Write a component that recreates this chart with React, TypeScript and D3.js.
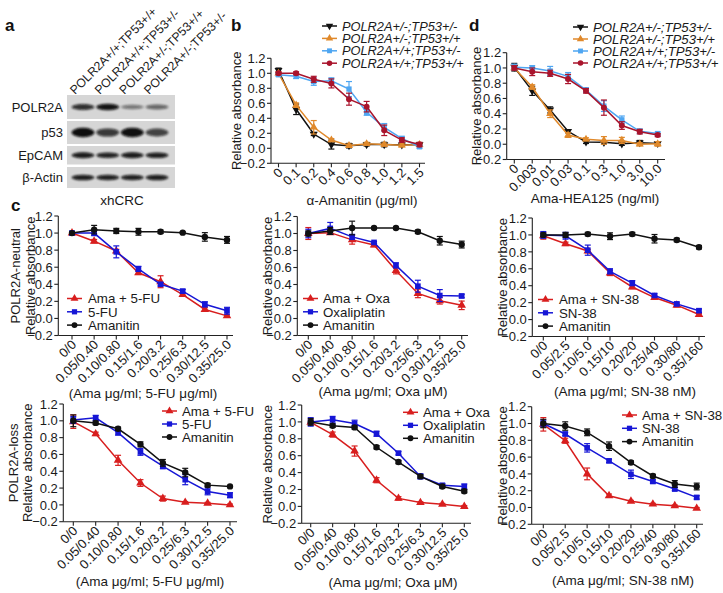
import React from "react";
import * as d3 from "d3";

const FONT = "'Liberation Sans', Arial, Helvetica, sans-serif";
const TXT = "#1a1a1a";

// ---------- colours ----------
const C_BLACK = "#111111";
const C_ORANGE = "#e0892b";
const C_LBLUE = "#4ea6f2";
const C_DRED = "#a9142c";
const C_RED = "#d81e1e";
const C_BLUE = "#1616d6";

// ---------- panel a (western blot) ----------
const lanes = ["POLR2A+/+;TP53+/+", "POLR2A+/+;TP53+/-", "POLR2A+/-;TP53+/+", "POLR2A+/-;TP53+/-"];
const blotProteins = ["POLR2A", "p53", "EpCAM", "β-Actin"];
const polr2aBands = [0.78, 0.95, 0.32, 0.42];
const p53Bands = [1.0, 0.72, 0.98, 0.66];
const epcamBands = [0.9, 0.86, 0.9, 0.88];
const actinBands = [0.88, 0.86, 0.86, 0.88];
const blotBands = [polr2aBands, p53Bands, epcamBands, actinBands];

// ---------- panel b ----------
const bDoses = ["0", "0.1", "0.2", "0.4", "0.6", "0.8", "1.0", "1.2", "1.5"];
const bNames = ["POLR2A+/-;TP53+/-", "POLR2A+/-;TP53+/+", "POLR2A+/+;TP53+/-", "POLR2A+/+;TP53+/+"];
const bBlack = [1.04, 0.52, 0.19, 0.05, 0.035, 0.05, 0.05, 0.045, 0.05];
const bBlackErr = [0.03, 0.07, 0.02, 0.06, 0.03, 0.02, 0.03, 0.02, 0.02];
const bOrange = [1.0, 0.575, 0.28, 0.11, 0.035, 0.06, 0.05, 0.04, 0.05];
const bOrangeErr = [0.02, 0.03, 0.09, 0.02, 0.02, 0.02, 0.02, 0.02, 0.02];
const bLBlue = [0.98, 0.96, 0.89, 0.9, 0.79, 0.48, 0.28, 0.13, 0.02];
const bLBlueErr = [0.02, 0.03, 0.05, 0.04, 0.1, 0.04, 0.05, 0.03, 0.02];
const bDRed = [1.0, 1.0, 0.92, 0.865, 0.655, 0.555, 0.24, 0.11, 0.05];
const bDRedErr = [0.02, 0.02, 0.04, 0.06, 0.08, 0.07, 0.07, 0.03, 0.03];

// ---------- panel d ----------
const dDoses = ["0", "0.003", "0.01", "0.03", "0.1", "0.3", "1.0", "3.0", "10.0"];
const dBlack = [1.01, 0.7, 0.45, 0.17, 0.03, 0.025, 0.005, 0.02, 0.01];
const dBlackErr = [0.05, 0.06, 0.04, 0.02, 0.02, 0.02, 0.02, 0.03, 0.02];
const dOrange = [1.0, 0.75, 0.4, 0.12, 0.065, 0.05, 0.05, 0.0, 0.005];
const dOrangeErr = [0.03, 0.03, 0.05, 0.03, 0.02, 0.05, 0.04, 0.02, 0.03];
const dLBlue = [1.01, 1.0, 0.96, 0.89, 0.71, 0.5, 0.32, 0.17, 0.14];
const dLBlueErr = [0.04, 0.03, 0.06, 0.05, 0.03, 0.07, 0.05, 0.03, 0.02];
const dDRed = [1.0, 0.95, 0.93, 0.855, 0.7, 0.48, 0.245, 0.165, 0.12];
const dDRedErr = [0.03, 0.05, 0.04, 0.06, 0.03, 0.1, 0.05, 0.03, 0.02];

// ---------- panel c ----------
const fuDoses = ["0/0", "0.05/0.40", "0.10/0.80", "0.15/1.6", "0.20/3.2", "0.25/6.3", "0.30/12.5", "0.35/25.0"];
const oxaDoses = ["0/0", "0.05/0.40", "0.10/0.80", "0.15/1.6", "0.20/3.2", "0.25/6.3", "0.30/12.5", "0.35/25.0"];
const snDoses = ["0/0", "0.05/2.5", "0.10/5.0", "0.15/10", "0.20/20", "0.25/40", "0.30/80", "0.35/160"];

// neutral row
const nFuCombo = [1.0, 0.905, 0.79, 0.535, 0.43, 0.28, 0.105, 0.03];
const nFuComboErr = [0.01, 0.02, 0.02, 0.02, 0.07, 0.02, 0.02, 0.01];
const nFu = [1.0, 1.0, 0.78, 0.58, 0.4, 0.32, 0.165, 0.09];
const nFuErr = [0.02, 0.03, 0.07, 0.03, 0.02, 0.02, 0.03, 0.04];
const nFuAma = [1.0, 1.04, 1.025, 1.015, 1.015, 1.005, 0.955, 0.92];
const nFuAmaErr = [0.01, 0.05, 0.03, 0.04, 0.02, 0.01, 0.05, 0.04];

const nOxaCombo = [1.0, 1.01, 0.925, 0.865, 0.565, 0.295, 0.21, 0.155];
const nOxaComboErr = [0.07, 0.02, 0.05, 0.02, 0.04, 0.05, 0.04, 0.05];
const nOxa = [1.0, 1.06, 0.96, 0.895, 0.625, 0.38, 0.27, 0.265];
const nOxaErr = [0.05, 0.07, 0.03, 0.01, 0.03, 0.07, 0.07, 0.02];
const nOxaAma = [1.0, 1.03, 1.065, 1.065, 1.065, 1.02, 0.915, 0.87];
const nOxaAmaErr = [0.03, 0.04, 0.08, 0.01, 0.01, 0.02, 0.05, 0.04];

const nSnCombo = [0.99, 0.895, 0.81, 0.55, 0.385, 0.26, 0.17, 0.06];
const nSnComboErr = [0.04, 0.02, 0.02, 0.03, 0.02, 0.02, 0.02, 0.01];
const nSn = [1.0, 0.99, 0.82, 0.57, 0.43, 0.285, 0.185, 0.105];
const nSnErr = [0.04, 0.04, 0.06, 0.03, 0.03, 0.02, 0.02, 0.02];
const nSnAma = [1.0, 1.0, 1.01, 0.985, 1.01, 0.955, 0.94, 0.855];
const nSnAmaErr = [0.02, 0.03, 0.02, 0.04, 0.02, 0.05, 0.02, 0.02];

// loss row
const lFuCombo = [0.99, 0.845, 0.53, 0.26, 0.075, 0.03, 0.02, 0.0];
const lFuComboErr = [0.08, 0.02, 0.06, 0.04, 0.03, 0.01, 0.01, 0.01];
const lFu = [1.01, 1.035, 0.86, 0.63, 0.46, 0.3, 0.16, 0.115];
const lFuErr = [0.04, 0.03, 0.03, 0.04, 0.03, 0.06, 0.04, 0.03];
const lFuAma = [1.0, 0.975, 0.905, 0.72, 0.5, 0.385, 0.235, 0.22];
const lFuAmaErr = [0.07, 0.02, 0.02, 0.03, 0.04, 0.05, 0.02, 0.01];

const lOxaCombo = [0.995, 0.85, 0.655, 0.31, 0.095, 0.045, 0.025, 0.0];
const lOxaComboErr = [0.03, 0.03, 0.06, 0.03, 0.02, 0.01, 0.01, 0.01];
const lOxa = [1.0, 1.025, 0.98, 0.86, 0.63, 0.355, 0.25, 0.235];
const lOxaErr = [0.05, 0.04, 0.04, 0.03, 0.02, 0.03, 0.02, 0.03];
const lOxaAma = [1.0, 0.955, 0.935, 0.7, 0.525, 0.355, 0.235, 0.18];
const lOxaAmaErr = [0.04, 0.02, 0.02, 0.02, 0.02, 0.02, 0.02, 0.02];

const lSnCombo = [0.99, 0.795, 0.4, 0.14, 0.075, 0.04, 0.02, -0.01];
const lSnComboErr = [0.08, 0.03, 0.07, 0.02, 0.01, 0.01, 0.01, 0.01];
const lSn = [1.0, 0.875, 0.71, 0.555, 0.395, 0.31, 0.22, 0.12];
const lSnErr = [0.04, 0.02, 0.05, 0.02, 0.05, 0.02, 0.02, 0.02];
const lSnAma = [1.0, 0.97, 0.895, 0.73, 0.535, 0.375, 0.28, 0.25];
const lSnAmaErr = [0.05, 0.05, 0.04, 0.05, 0.02, 0.02, 0.04, 0.04];

const yTicks = [-0.2, 0, 0.2, 0.4, 0.6, 0.8, 1.0, 1.2];

type Shape = "tri" | "triDown" | "square" | "circle";
type Series = { name: string; color: string; shape: Shape; mean: number[]; err: number[] };
type Layout = { axisX: number; x0: number; x1: number; xEnd: number; yTop: number; yBot: number };
type Legend = { x: number; textX: number; y0: number; dy: number; italic?: boolean; size: number };

function symbolPath(shape: Shape, size: number) {
  const t =
    shape === "circle" ? d3.symbolCircle : shape === "square" ? d3.symbolSquare : d3.symbolTriangle;
  return d3.symbol().type(t).size(size)() as string;
}

function Marker({ shape, cx, cy, color, size }: { shape: Shape; cx: number; cy: number; color: string; size: number }) {
  const rot = shape === "triDown" ? " rotate(180)" : "";
  return <path d={symbolPath(shape, size)} transform={`translate(${cx},${cy})${rot}`} fill={color} />;
}

function Panel(props: {
  layout: Layout;
  cats: string[];
  series: Series[];
  legend: Legend;
  yTitles: { text: string; x: number }[];
  xTitle: { text: string; x: number; y: number };
  markerSize: number;
}) {
  const { layout, cats, series, legend, yTitles, xTitle, markerSize } = props;
  const x = d3.scalePoint<string>().domain(cats).range([layout.x0, layout.x1]);
  const y = d3.scaleLinear().domain([-0.2, 1.2]).range([layout.yBot, layout.yTop]);
  const line = d3
    .line<number>()
    .x((_, i) => x(cats[i]) as number)
    .y((v) => y(v));
  const fmt = d3.format(".1f");
  const axisY = y(-0.2);
  const midY = (y(1.2) + y(-0.2)) / 2;
  return (
    <g fontFamily={FONT} fill={TXT}>
      {/* axes */}
      <line x1={layout.axisX} x2={layout.axisX} y1={y(1.2)} y2={axisY} stroke="#222" strokeWidth={1.1} />
      <line x1={layout.axisX} x2={layout.xEnd} y1={axisY} y2={axisY} stroke="#222" strokeWidth={1.1} />
      {yTicks.map((t) => (
        <g key={t}>
          <line x1={layout.axisX - 4} x2={layout.axisX} y1={y(t)} y2={y(t)} stroke="#222" strokeWidth={1.1} />
          <text x={layout.axisX - 5.5} y={y(t)} dy="0.36em" textAnchor="end" fontSize={13}>
            {fmt(t)}
          </text>
        </g>
      ))}
      {cats.map((c) => (
        <g key={c}>
          <line x1={x(c)} x2={x(c)} y1={axisY} y2={axisY + 4} stroke="#222" strokeWidth={1.1} />
          <text
            transform={`translate(${(x(c) as number) + 5},${axisY + 10}) rotate(-45)`}
            textAnchor="end"
            fontSize={13}
          >
            {c}
          </text>
        </g>
      ))}
      {yTitles.map((t) => (
        <text
          key={t.text}
          transform={`translate(${t.x},${midY}) rotate(-90)`}
          textAnchor="middle"
          dy="0.36em"
          fontSize={13}
        >
          {t.text}
        </text>
      ))}
      <text x={xTitle.x} y={xTitle.y} textAnchor="middle" fontSize={13.5}>
        {xTitle.text}
      </text>
      {/* series */}
      {series.map((s) => (
        <g key={s.name}>
          <path d={line(s.mean) as string} fill="none" stroke={s.color} strokeWidth={1.5} />
          {s.mean.map((v, i) => {
            const cx = x(cats[i]) as number;
            const e = s.err[i];
            return (
              <g key={i} stroke={s.color} strokeWidth={1.2}>
                <line x1={cx} x2={cx} y1={y(v - e)} y2={y(v + e)} />
                <line x1={cx - 3} x2={cx + 3} y1={y(v - e)} y2={y(v - e)} />
                <line x1={cx - 3} x2={cx + 3} y1={y(v + e)} y2={y(v + e)} />
              </g>
            );
          })}
          {s.mean.map((v, i) => (
            <Marker key={i} shape={s.shape} cx={x(cats[i]) as number} cy={y(v)} color={s.color} size={markerSize} />
          ))}
        </g>
      ))}
      {/* legend */}
      {series.map((s, i) => {
        const ly = legend.y0 + i * legend.dy;
        return (
          <g key={s.name}>
            <line x1={legend.x} x2={legend.x + 15} y1={ly} y2={ly} stroke={s.color} strokeWidth={1.5} />
            <Marker shape={s.shape} cx={legend.x + 7.5} cy={ly} color={s.color} size={markerSize * 0.85} />
            <text
              x={legend.textX}
              y={ly}
              dy="0.36em"
              fontSize={legend.size}
              fontStyle={legend.italic ? "italic" : "normal"}
            >
              {s.name}
            </text>
          </g>
        );
      })}
    </g>
  );
}

function Blot() {
  const lx = d3.scalePoint<string>().domain(lanes).range([83, 157]);
  const rowTops = [95, 121, 146, 167];
  const rowHeights = [24, 23, 18.5, 21];
  const bandH = [6, 8.5, 5.5, 5.5];
  return (
    <g fontFamily={FONT} fill={TXT}>
      <defs>
        <filter id="blur" x="-30%" y="-80%" width="160%" height="260%">
          <feGaussianBlur stdDeviation="1.0" />
        </filter>
      </defs>
      {blotProteins.map((p, r) => (
        <g key={p}>
          <rect x={67} y={rowTops[r]} width={108} height={rowHeights[r]} fill="#d6d6d6" />
          <text x={63} y={rowTops[r] + rowHeights[r] / 2} dy="0.36em" textAnchor="end" fontSize={13}>
            {p}
          </text>
          {lanes.map((l, i) => {
            const v = blotBands[r][i];
            const cy = rowTops[r] + rowHeights[r] / 2;
            const h = bandH[r] * (0.6 + 0.5 * v);
            return (
              <ellipse
                key={l}
                cx={lx(l)}
                cy={cy}
                rx={11.5}
                ry={h / 2}
                fill="#080808"
                opacity={0.22 + 0.78 * v}
                filter="url(#blur)"
              />
            );
          })}
        </g>
      ))}
      {lanes.map((l) => (
        <text key={l} transform={`translate(${(lx(l) as number) - 8},${95}) rotate(-45)`} fontSize={12.3}>
          {l}
        </text>
      ))}
      <text x={122} y={205} textAnchor="middle" fontSize={13.5}>
        xhCRC
      </text>
    </g>
  );
}

export default function App() {
  const bSeries: Series[] = [
    { name: bNames[0], color: C_BLACK, shape: "triDown", mean: bBlack, err: bBlackErr },
    { name: bNames[1], color: C_ORANGE, shape: "tri", mean: bOrange, err: bOrangeErr },
    { name: bNames[2], color: C_LBLUE, shape: "square", mean: bLBlue, err: bLBlueErr },
    { name: bNames[3], color: C_DRED, shape: "circle", mean: bDRed, err: bDRedErr },
  ];
  const dSeries: Series[] = [
    { name: bNames[0], color: C_BLACK, shape: "triDown", mean: dBlack, err: dBlackErr },
    { name: bNames[1], color: C_ORANGE, shape: "tri", mean: dOrange, err: dOrangeErr },
    { name: bNames[2], color: C_LBLUE, shape: "square", mean: dLBlue, err: dLBlueErr },
    { name: bNames[3], color: C_DRED, shape: "circle", mean: dDRed, err: dDRedErr },
  ];
  const mk = (drug: string, combo: number[], comboE: number[], dr: number[], drE: number[], am: number[], amE: number[]): Series[] => [
    { name: `Ama + ${drug}`, color: C_RED, shape: "tri", mean: combo, err: comboE },
    { name: drug === "Oxa" ? "Oxaliplatin" : drug, color: C_BLUE, shape: "square", mean: dr, err: drE },
    { name: "Amanitin", color: C_BLACK, shape: "circle", mean: am, err: amE },
  ];

  return (
    <svg width={723} height={593} style={{ position: "absolute", left: 0, top: 0, background: "#fff" }}>
      <rect width={723} height={593} fill="#fff" />
      {/* panel letters */}
      <g fontFamily={FONT} fontWeight="bold" fontSize={17} fill="#111">
        <text x={5} y={31}>a</text>
        <text x={231} y={31}>b</text>
        <text x={469} y={31}>d</text>
        <text x={11} y={211}>c</text>
      </g>
      <Blot />
      <Panel
        layout={{ axisX: 271, x0: 278.5, x1: 419.5, xEnd: 425, yTop: 58.3, yBot: 163.3 }}
        cats={bDoses}
        series={bSeries}
        legend={{ x: 322, textX: 342, y0: 26, dy: 12.4, italic: true, size: 12.8 }}
        yTitles={[{ text: "Relative absorbance", x: 236 }]}
        xTitle={{ text: "α-Amanitin (μg/ml)", x: 362, y: 205 }}
        markerSize={28}
      />
      <Panel
        layout={{ axisX: 506.7, x0: 514.3, x1: 657.7, xEnd: 665, yTop: 52.7, yBot: 159.5 }}
        cats={dDoses}
        series={dSeries}
        legend={{ x: 573, textX: 593, y0: 27, dy: 12, italic: true, size: 13.2 }}
        yTitles={[{ text: "Relative absorbance", x: 476 }]}
        xTitle={{ text: "Ama-HEA125 (ng/ml)", x: 595, y: 203 }}
        markerSize={28}
      />
      {/* panel c, neutral row */}
      <Panel
        layout={{ axisX: 58.3, x0: 72, x1: 227, xEnd: 233, yTop: 216, yBot: 335.5 }}
        cats={fuDoses}
        series={mk("5-FU", nFuCombo, nFuComboErr, nFu, nFuErr, nFuAma, nFuAmaErr)}
        legend={{ x: 67, textX: 88, y0: 298.5, dy: 13.3, size: 13.3 }}
        yTitles={[
          { text: "POLR2A-neutral", x: 15 },
          { text: "Relative absorbance", x: 30 },
        ]}
        xTitle={{ text: "(Ama μg/ml; 5-FU μg/ml)", x: 143, y: 398 }}
        markerSize={32}
      />
      <Panel
        layout={{ axisX: 297.3, x0: 308.3, x1: 461.7, xEnd: 468, yTop: 216.5, yBot: 335.5 }}
        cats={oxaDoses}
        series={mk("Oxa", nOxaCombo, nOxaComboErr, nOxa, nOxaErr, nOxaAma, nOxaAmaErr)}
        legend={{ x: 303, textX: 323, y0: 298.5, dy: 13.3, size: 13.3 }}
        yTitles={[{ text: "Relative absorbance", x: 267 }]}
        xTitle={{ text: "(Ama μg/ml; Oxa μM)", x: 383, y: 396 }}
        markerSize={32}
      />
      <Panel
        layout={{ axisX: 532.3, x0: 543.3, x1: 699, xEnd: 705, yTop: 218, yBot: 336.5 }}
        cats={snDoses}
        series={mk("SN-38", nSnCombo, nSnComboErr, nSn, nSnErr, nSnAma, nSnAmaErr)}
        legend={{ x: 538, textX: 559, y0: 299.5, dy: 13.3, size: 13.3 }}
        yTitles={[{ text: "Relative absorbance", x: 502 }]}
        xTitle={{ text: "(Ama μg/ml; SN-38 nM)", x: 625, y: 396 }}
        markerSize={32}
      />
      {/* panel c, loss row */}
      <Panel
        layout={{ axisX: 63.3, x0: 73.3, x1: 230, xEnd: 237, yTop: 404, yBot: 521.7 }}
        cats={fuDoses}
        series={mk("5-FU", lFuCombo, lFuComboErr, lFu, lFuErr, lFuAma, lFuAmaErr)}
        legend={{ x: 162, textX: 182, y0: 411, dy: 13, size: 13.3 }}
        yTitles={[
          { text: "POLR2A-loss", x: 13 },
          { text: "Relative absorbance", x: 27 },
        ]}
        xTitle={{ text: "(Ama μg/ml; 5-FU μg/ml)", x: 150, y: 586 }}
        markerSize={32}
      />
      <Panel
        layout={{ axisX: 301.7, x0: 310.7, x1: 464.3, xEnd: 471, yTop: 405, yBot: 523.3 }}
        cats={oxaDoses}
        series={mk("Oxa", lOxaCombo, lOxaComboErr, lOxa, lOxaErr, lOxaAma, lOxaAmaErr)}
        legend={{ x: 403, textX: 423, y0: 412.3, dy: 13, size: 13.3 }}
        yTitles={[{ text: "Relative absorbance", x: 267 }]}
        xTitle={{ text: "(Ama μg/ml; Oxa μM)", x: 393, y: 587 }}
        markerSize={32}
      />
      <Panel
        layout={{ axisX: 531.7, x0: 543.3, x1: 696.7, xEnd: 703, yTop: 406.7, yBot: 524.3 }}
        cats={snDoses}
        series={mk("SN-38", lSnCombo, lSnComboErr, lSn, lSnErr, lSnAma, lSnAmaErr)}
        legend={{ x: 622, textX: 642, y0: 415, dy: 13.3, size: 13.3 }}
        yTitles={[{ text: "Relative absorbance", x: 502 }]}
        xTitle={{ text: "(Ama μg/ml; SN-38 nM)", x: 623, y: 585 }}
        markerSize={32}
      />
    </svg>
  );
}
